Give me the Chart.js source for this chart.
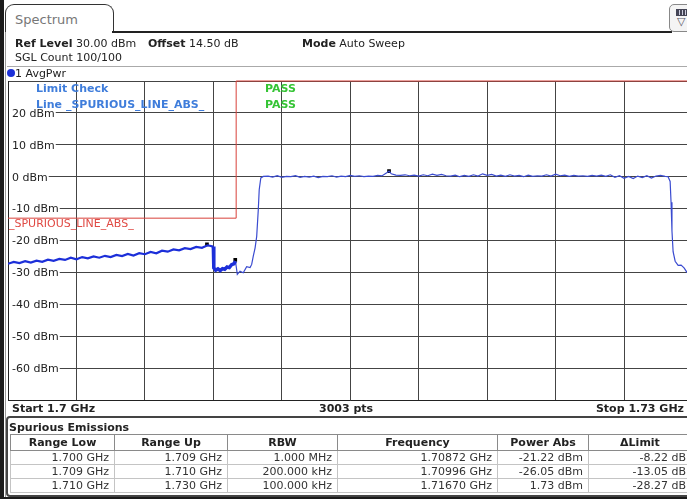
<!DOCTYPE html>
<html>
<head>
<meta charset="utf-8">
<script src="https://cdn.jsdelivr.net/npm/chart.js@4.4.1/dist/chart.umd.min.js"></script>
<style>
  body { margin: 0; width: 687px; height: 499px; overflow: hidden; background: #fff; position: relative;
         font-family: "DejaVu Sans", Verdana, sans-serif; font-size: 11px; color: #222; }
  .t { position: absolute; white-space: nowrap; line-height: 13px; }
  .b { font-weight: bold; }
  #chart { position: absolute; left: 0; top: 0; }
  #frameL { position: absolute; left: 0; top: 0; width: 4px; height: 499px; background: #1b1b1b; }
  #frameL2 { position: absolute; left: 5px; top: 32px; width: 1px; height: 467px; background: #999; }
  #frameB { position: absolute; left: 0; top: 497px; width: 687px; height: 2px; background: #1b1b1b; }
  #tab { position: absolute; left: 5px; top: 4px; width: 107px; height: 27px; border: 1.5px solid #333;
         border-bottom: none; border-radius: 9px 9px 0 0; background: #fff; }
  #tabLine { position: absolute; left: 112px; top: 31px; width: 560px; height: 1.5px; background: #222; }
  #icon { position: absolute; left: 669px; top: 4px; width: 26px; height: 26px; border: 1px solid #888;
          border-radius: 5px; background: #f4f4f4; }
  #sep { position: absolute; left: 7px; top: 66px; width: 680px; height: 1px; background: #aaa; }
  #tbl { position: absolute; left: 6px; top: 416px; width: 692px; height: 77px; border: 2px solid #444;
         border-radius: 4px; }
  table { position: absolute; left: 2px; top: 16px; border-collapse: collapse; table-layout: fixed;
          font-size: 11px; }
  th { height: 15px; border: 1px solid #8a8a8a; font-weight: bold; text-align: center; padding: 0; color: #222; }
  td { height: 13px; border: 1px solid #c4c4c4; text-align: right; padding: 0 5px 0 0; color: #333; line-height: 13px; }
</style>
</head>
<body>
<canvas id="chart" width="700" height="499"></canvas>
<div id="frameL"></div><div id="frameL2"></div><div id="frameB"></div>
<div id="tab"></div>
<div class="t" style="left:15px;top:12px;font-size:13px;line-height:16px;color:#777;">Spectrum</div>
<div id="tabLine"></div>
<div id="icon">
  <div style="position:absolute;left:6px;top:4px;width:13px;height:5px;border:1px solid #445;background:repeating-linear-gradient(90deg,#445 0 2px,#ccd 2px 3px);"></div>
  <div class="t" style="left:7px;top:10px;font-size:11px;color:#556;">&#9661;</div>
</div>
<div class="t" style="left:15px;top:37px;"><span class="b">Ref Level</span> 30.00 dBm</div>
<div class="t" style="left:148px;top:37px;"><span class="b">Offset</span> 14.50 dB</div>
<div class="t" style="left:302px;top:37px;"><span class="b">Mode</span> Auto Sweep</div>
<div class="t" style="left:15px;top:51px;">SGL Count 100/100</div>
<div id="sep"></div>
<div style="position:absolute;left:7px;top:69px;width:8px;height:8px;border-radius:50%;background:#1c30d8;"></div>
<div class="t" style="left:15px;top:67px;">1 AvgPwr</div>

<div class="t b" style="left:36px;top:82px;color:#3f7ddb;">Limit Check</div>
<div class="t b" style="left:36px;top:98px;color:#3f7ddb;">Line _SPURIOUS_LINE_ABS_</div>
<div class="t b" style="left:265px;top:82px;color:#35c435;">PASS</div>
<div class="t b" style="left:265px;top:98px;color:#35c435;">PASS</div>

<div class="t b" style="left:12px;top:402px;">Start 1.7 GHz</div>
<div class="t b" style="left:319px;top:402px;">3003 pts</div>
<div class="t b" style="right:3px;top:402px;">Stop 1.73 GHz</div>

<div id="tbl">
  <div class="t b" style="left:1px;top:3px;">Spurious Emissions</div>
  <table id="spur"></table>
</div>

<script>
// grid positions (MHz / dBm)
const xGridMHz = [1700, 1703, 1706, 1709, 1712, 1715, 1718, 1721, 1724, 1727, 1730];
const yGridDbm = [30, 20, 10, 0, -10, -20, -30, -40, -50, -60, -70];
const yLabelDbm = [20, 10, 0, -10, -20, -30, -40, -50, -60];
const yLabelText = ['20 dBm', '10 dBm', '0 dBm', '-10 dBm', '-20 dBm', '-30 dBm', '-40 dBm', '-50 dBm', '-60 dBm'];

// limit line _SPURIOUS_LINE_ABS_
const limitFreqMHz = [1700, 1710, 1710, 1730];
const limitDbm = [-13, -13, 30, 30];

// trace, range 1 (1.700 - 1.709 GHz, RBW 1 MHz)
const lowFreqMHz = [1700.0, 1700.25, 1700.5, 1700.75, 1701.0, 1701.25, 1701.5, 1701.75, 1702.0, 1702.25,
  1702.5, 1702.75, 1703.0, 1703.25, 1703.5, 1703.75, 1704.0, 1704.25, 1704.5, 1704.75, 1705.0, 1705.25,
  1705.5, 1705.75, 1706.0, 1706.25, 1706.5, 1706.75, 1707.0, 1707.25, 1707.5, 1707.75, 1708.0, 1708.25,
  1708.5, 1708.75, 1709.0];
const lowDbm = [-27.3, -26.7, -27.1, -26.5, -26.9, -26.3, -26.7, -26.0, -26.4, -25.8,
  -26.1, -25.4, -25.9, -25.2, -25.6, -25.0, -25.4, -24.8, -25.2, -24.5, -24.9, -24.2,
  -24.7, -24.0, -24.3, -23.6, -24.0, -23.2, -23.5, -22.8, -23.1, -22.4, -22.7, -22.0,
  -22.3, -21.5, -21.9];

// trace, range 2 (1.709 - 1.710 GHz, RBW 200 kHz)
const midFreqMHz = [1709.0, 1709.02, 1709.1, 1709.2, 1709.3, 1709.4, 1709.5, 1709.6, 1709.7, 1709.8, 1709.9, 1709.97];
const midDbm = [-21.9, -28.6, -29.3, -28.9, -29.4, -28.8, -29.0, -28.3, -28.5, -27.6, -27.3, -26.5];

// trace, range 3 (1.710 - 1.730 GHz, RBW 100 kHz)
const bandFreqMHz = [1709.97, 1710.05, 1710.17, 1710.31, 1710.46, 1710.61, 1710.68, 1710.75, 1710.83, 1710.9,
  1710.97, 1711.01, 1711.08, 1711.19,
  1711.4, 1711.6, 1711.8, 1712.0, 1712.2, 1712.4, 1712.6, 1712.8, 1713.0, 1713.2, 1713.4, 1713.6, 1713.8,
  1714.0, 1714.2, 1714.4, 1714.6, 1714.8, 1715.0, 1715.2, 1715.4, 1715.6, 1715.8, 1716.0, 1716.2, 1716.4,
  1716.6, 1716.7, 1716.8, 1717.0, 1717.2, 1717.4, 1717.6, 1717.8, 1718.0, 1718.2, 1718.4, 1718.6, 1718.8,
  1719.0, 1719.2, 1719.4, 1719.6, 1719.8, 1720.0, 1720.2, 1720.4, 1720.6, 1720.8, 1721.0, 1721.2, 1721.4,
  1721.6, 1721.8, 1722.0, 1722.2, 1722.4, 1722.6, 1722.8, 1723.0, 1723.2, 1723.4, 1723.6, 1723.8, 1724.0,
  1724.2, 1724.4, 1724.6, 1724.8, 1725.0, 1725.2, 1725.4, 1725.6, 1725.8, 1726.0, 1726.2, 1726.4, 1726.6,
  1726.8, 1727.0, 1727.2, 1727.4, 1727.6, 1727.8, 1728.0, 1728.2, 1728.4, 1728.6, 1728.8,
  1728.93, 1729.02, 1729.06, 1729.1, 1729.15, 1729.24, 1729.37, 1729.5, 1729.63, 1729.76, 1729.9, 1730.0];
const bandDbm = [-26.5, -30.6, -29.6, -30.1, -28.2, -28.5, -27.5, -24.9, -22.3, -18.7,
  -10.3, -4.1, -0.4, 0.1,
  0.2, -0.1, 0.3, -0.2, 0.1, 0.0, 0.3, -0.2, 0.1, -0.1, 0.2, -0.3, 0.1,
  0.0, 0.3, -0.1, 0.2, 0.0, 0.4, 0.1, 0.3, 0.0, 0.2, 0.1, 0.4, 0.3,
  1.2, 1.73, 0.9, 0.5, 0.4, 0.6, 0.3, 0.5, 0.2, 0.6, 0.3, 0.8, 0.4,
  0.7, 0.3, 0.2, 0.5, 0.0, 0.4, 0.1, 0.6, 0.2, 0.9, 0.4, 0.7, 0.2,
  0.5, 0.1, 0.6, 0.2, 0.4, 0.0, 0.5, 0.1, 0.3, 0.2, 0.6, 0.2, 0.8,
  0.3, 0.5, 0.1, 0.4, 0.2, 0.3, 0.1, 0.4, 0.2, 0.5, 0.1, 0.6, -0.2,
  0.3, -0.5, 0.1, -0.6, 0.2, -0.3, 0.3, -0.4, 0.2, 0.4, 0.1,
  0.0, -1.5, -8.0, -17.0, -23.5, -26.5, -27.8, -27.7, -28.6, -30.0, -30.4, -30.8];

// peak markers per range
const markerFreqMHz = [1708.72, 1709.96, 1716.70];
const markerDbm = [-21.22, -26.05, 1.73];

// spurious emissions table
const tableHeaders = ['Range Low', 'Range Up', 'RBW', 'Frequency', 'Power Abs', '\u0394Limit'];
const tableRows = [
  ['1.700 GHz', '1.709 GHz', '1.000 MHz', '1.70872 GHz', '-21.22 dBm', '-8.22 dB'],
  ['1.709 GHz', '1.710 GHz', '200.000 kHz', '1.70996 GHz', '-26.05 dBm', '-13.05 dB'],
  ['1.710 GHz', '1.730 GHz', '100.000 kHz', '1.71670 GHz', '1.73 dBm', '-28.27 dB'],
];
const colWidths = [104, 113, 110, 160, 91, 103];

const zip = (xs, ys) => xs.map((x, i) => ({ x, y: ys[i] }));

// build table
const tbl = document.getElementById('spur');
tbl.innerHTML = '<colgroup>' + colWidths.map(w => '<col style="width:' + w + 'px">').join('') + '</colgroup>' +
  '<tr>' + tableHeaders.map(h => '<th>' + h + '</th>').join('') + '</tr>' +
  tableRows.map(r => '<tr>' + r.map(c => '<td>' + c + '</td>').join('') + '</tr>').join('');

// y labels sit inside the grid, on a white patch
const gridLabels = {
  id: 'gridLabels',
  beforeDatasetsDraw(chart) {
    const { ctx, scales: { y }, chartArea } = chart;
    ctx.save();
    ctx.font = '11px "DejaVu Sans", Verdana, sans-serif';
    ctx.textBaseline = 'middle';
    yLabelDbm.forEach((v, i) => {
      const py = y.getPixelForValue(v);
      const w = ctx.measureText(yLabelText[i]).width;
      ctx.fillStyle = '#fff';
      ctx.fillRect(chartArea.left + 1, py - 6, w + 4, 12);
      ctx.fillStyle = '#222';
      ctx.fillText(yLabelText[i], chartArea.left + 4, py + 1);
    });
    ctx.fillStyle = '#e04a44';
    ctx.fillText('_SPURIOUS_LINE_ABS_', chartArea.left + 1, y.getPixelForValue(-14.5) + 1);
    ctx.restore();
  }
};

new Chart(document.getElementById('chart'), {
  type: 'line',
  data: {
    datasets: [
      { data: zip(limitFreqMHz, limitDbm), borderColor: '#d8403a', borderWidth: 1, pointRadius: 0, clip: false },
      { data: zip(lowFreqMHz, lowDbm), borderColor: '#1c2fd9', borderWidth: 2.2, pointRadius: 0 },
      { data: zip(midFreqMHz, midDbm), borderColor: '#1c2fd9', borderWidth: 3.5, pointRadius: 0 },
      { data: zip(bandFreqMHz, bandDbm), borderColor: '#3a4bd0', borderWidth: 1.2, pointRadius: 0 },
      { data: zip(markerFreqMHz, markerDbm), showLine: false, pointStyle: 'rect', pointRadius: 2.6,
        pointBackgroundColor: '#000', pointBorderColor: '#000', pointBorderWidth: 0 },
    ],
  },
  options: {
    responsive: false,
    animation: false,
    devicePixelRatio: 1,
    layout: { padding: { left: 8, top: 81, right: 7.5, bottom: 99 } },
    elements: { line: { tension: 0 } },
    plugins: { legend: { display: false }, tooltip: { enabled: false } },
    scales: {
      x: {
        type: 'linear', min: 1700, max: 1730,
        afterBuildTicks: (s) => { s.ticks = xGridMHz.map(v => ({ value: v })); },
        afterFit: (s) => { s.height = 0; },
        ticks: { display: false },
        grid: { color: '#444', lineWidth: 1, drawTicks: false },
        border: { color: '#222', width: 1 },
      },
      y: {
        min: -70, max: 30,
        afterBuildTicks: (s) => { s.ticks = yGridDbm.map(v => ({ value: v })); },
        afterFit: (s) => { s.width = 0; },
        ticks: { display: false },
        grid: { color: '#444', lineWidth: 1, drawTicks: false },
        border: { color: '#222', width: 1 },
      },
    },
  },
  plugins: [gridLabels],
});
</script>
</body>
</html>
